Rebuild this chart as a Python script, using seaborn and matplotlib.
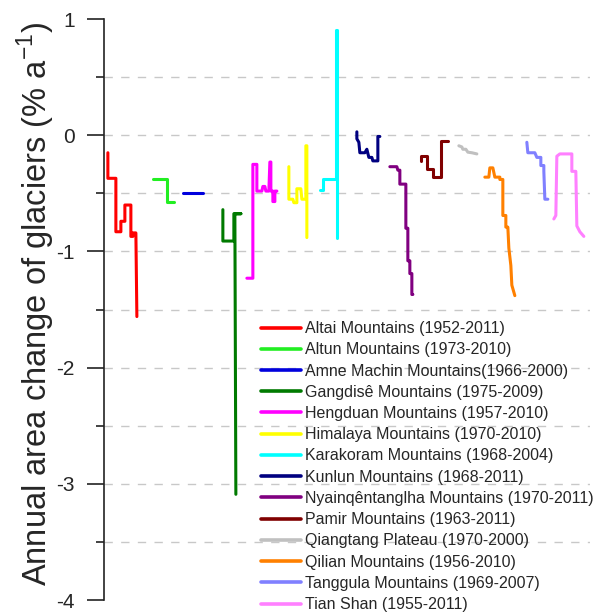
import matplotlib
matplotlib.use('Agg')
import matplotlib.pyplot as plt
import seaborn as sns
import pandas as pd
import numpy as np

# position along the x-axis (arbitrary units) and annual area change (% a-1)
altai_x = [4, 4, 12, 12, 17, 17, 21, 21, 27, 27, 29, 29, 32, 33]
altai_y = [-0.15, -0.37, -0.37, -0.83, -0.83, -0.74, -0.74, -0.60, -0.60, -0.87, -0.87, -0.84, -0.84, -1.56]

altun_x = [49, 63, 63, 70]
altun_y = [-0.38, -0.38, -0.57, -0.57]

amne_x = [79, 99]
amne_y = [-0.50, -0.50]

gangdise_x = [119, 119, 130, 130, 137, 131, 132]
gangdise_y = [-0.64, -0.91, -0.91, -0.675, -0.675, -0.675, -3.09]

hengduan_x = [143, 149, 149, 153, 153, 158, 159, 161, 162, 165, 166, 167, 167, 169, 169, 171, 171, 173]
hengduan_y = [-1.23, -1.23, -0.25, -0.25, -0.48, -0.48, -0.44, -0.44, -0.48, -0.48, -0.23, -0.23, -0.48, -0.48, -0.57, -0.57, -0.48, -0.48]

himalaya_x = [185, 185, 189, 190, 193, 193, 197, 198, 202, 202, 203, 203]
himalaya_y = [-0.27, -0.55, -0.55, -0.58, -0.58, -0.46, -0.46, -0.55, -0.55, -0.09, -0.09, -0.88]

karakoram_x = [216, 219, 219, 232, 232, 233, 233]
karakoram_y = [-0.47, -0.47, -0.38, -0.38, 0.91, 0.91, -0.88]

kunlun_x = [253, 253, 255, 256, 261, 263, 265, 268, 269, 274, 274, 276]
kunlun_y = [0.03, -0.03, -0.06, -0.15, -0.15, -0.12, -0.19, -0.19, -0.22, -0.22, -0.01, -0.01]

nyain_x = [286, 293, 294, 296, 296, 302, 302, 304, 304, 306, 306, 308, 308, 309]
nyain_y = [-0.27, -0.27, -0.30, -0.30, -0.42, -0.42, -0.80, -0.80, -1.08, -1.08, -1.19, -1.19, -1.37, -1.37]

pamir_x = [317, 317, 323, 323, 329, 329, 337, 337, 344]
pamir_y = [-0.22, -0.18, -0.18, -0.29, -0.29, -0.36, -0.36, -0.05, -0.05]

qiangtang_x = [355, 358, 359, 362, 364, 368, 373]
qiangtang_y = [-0.09, -0.10, -0.12, -0.12, -0.145, -0.15, -0.16]

qilian_x = [381, 385, 386, 389, 391, 396, 396, 399, 399, 402, 402, 404, 405, 407, 408, 411]
qilian_y = [-0.36, -0.36, -0.28, -0.28, -0.36, -0.36, -0.38, -0.38, -0.69, -0.69, -0.79, -0.79, -0.97, -1.12, -1.29, -1.38]

tanggula_x = [423, 424, 431, 433, 437, 437, 440, 440, 441, 444]
tanggula_y = [-0.06, -0.15, -0.15, -0.19, -0.19, -0.26, -0.26, -0.31, -0.55, -0.55]

tianshan_x = [450, 452, 453, 456, 468, 468, 472, 473, 476, 480]
tianshan_y = [-0.72, -0.69, -0.18, -0.16, -0.16, -0.31, -0.31, -0.78, -0.83, -0.87]

labels = ['Altai Mountains (1952-2011)', 'Altun Mountains (1973-2010)',
          'Amne Machin Mountains(1966-2000)', 'Gangdisê Mountains (1975-2009)',
          'Hengduan Mountains (1957-2010)', 'Himalaya Mountains (1970-2010)',
          'Karakoram Mountains (1968-2004)', 'Kunlun Mountains (1968-2011)',
          'Nyainqêntanglha Mountains (1970-2011)', 'Pamir Mountains (1963-2011)',
          'Qiangtang Plateau (1970-2000)', 'Qilian Mountains (1956-2010)',
          'Tanggula Mountains (1969-2007)', 'Tian Shan (1955-2011)']
colors = ['#ff0000', '#22ee22', '#0000dd', '#007a00', '#ff00ff', '#ffff00', '#00ffff',
          '#000080', '#800080', '#800000', '#c0c0c0', '#ff8000', '#8080ff', '#ff80ff']
xs = [altai_x, altun_x, amne_x, gangdise_x, hengduan_x, himalaya_x, karakoram_x,
      kunlun_x, nyain_x, pamir_x, qiangtang_x, qilian_x, tanggula_x, tianshan_x]
ys = [altai_y, altun_y, amne_y, gangdise_y, hengduan_y, himalaya_y, karakoram_y,
      kunlun_y, nyain_y, pamir_y, qiangtang_y, qilian_y, tanggula_y, tianshan_y]

# long table for seaborn, keep point order inside each region
frames = []
for lab, x, y in zip(labels, xs, ys):
    frames.append(pd.DataFrame({'x': x, 'y': y, 'region': lab}))
df = pd.concat(frames, ignore_index=True)

sns.set_style('white')
plt.rcParams['font.family'] = ['Liberation Sans', 'DejaVu Sans']
plt.rcParams['mathtext.fontset'] = 'custom'
plt.rcParams['mathtext.rm'] = 'Liberation Sans'
plt.rcParams['axes.unicode_minus'] = False

fig = plt.figure(figsize=(5.97, 6.14), dpi=100)
ax = fig.add_axes([0.174, 0.0228, 0.814, 0.946])

# dashed grid at every half unit
for g in np.arange(-3.5, 1.0, 0.5):
    ax.axhline(g, color='#c8c8c8', linestyle=(0, (6, 6)), linewidth=1, zorder=0)

sns.lineplot(data=df, x='x', y='y', hue='region', hue_order=labels,
             palette=colors, sort=False, estimator=None, linewidth=2.2, ax=ax,
             legend=True)

ax.set_xlim(0, 486)
ax.set_ylim(-4, 1)
ax.set_xticks([])
ax.set_yticks(range(-4, 2))
ax.set_yticklabels([str(v) for v in range(-4, 2)], fontsize=15)
ax.set_yticks(np.arange(-3.5, 1.0, 0.5), minor=True)
ax.tick_params(axis='y', which='major', direction='out', length=12, width=1.2,
               color='#222222', pad=9, left=True)
ax.tick_params(axis='y', which='minor', direction='out', length=6, width=1.2,
               color='#222222', left=True)
for s in ['top', 'right', 'bottom']:
    ax.spines[s].set_visible(False)
ax.spines['left'].set_linewidth(1.2)
ax.spines['left'].set_color('#222222')
ax.set_xlabel('')
ax.set_ylabel('')

fig.text(0.060, 0.505, r'Annual area change of glaciers (% a$^{\mathregular{-1}}$)',
         rotation=90, ha='center', va='center', fontsize=23.5)

handles, labs = ax.get_legend_handles_labels()
for h in handles:
    h.set_linewidth(2.6)
ax.legend(handles, labs, loc='upper left', bbox_to_anchor=(0.438, 0.477),
          bbox_transform=fig.transFigure, frameon=False, fontsize=11.5,
          handlelength=2.5, handletextpad=0.2, labelspacing=0.39,
          borderpad=0, borderaxespad=0)

fig.savefig('out.png', dpi=100)
